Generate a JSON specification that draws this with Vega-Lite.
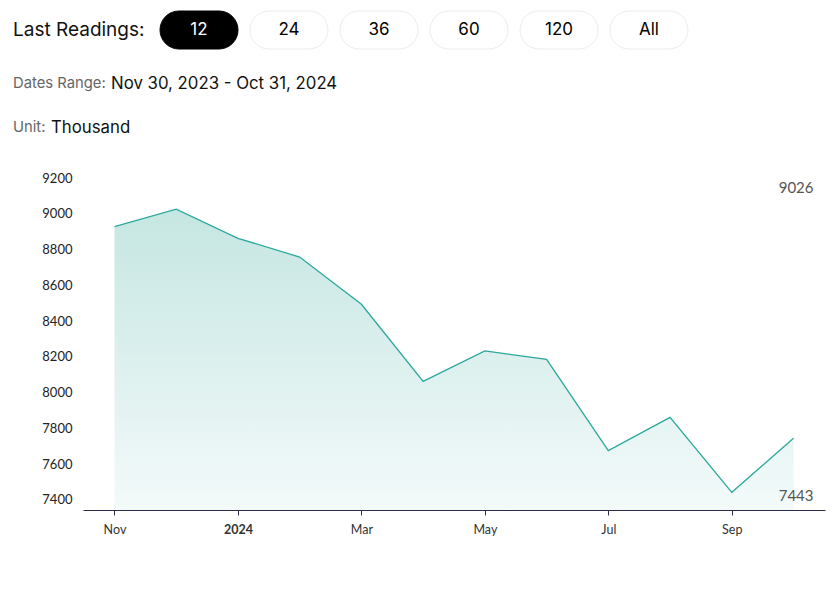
{
  "$schema": "https://vega.github.io/schema/vega-lite/v6.json",
  "width": 742,
  "height": 332,
  "autosize": "none",
  "padding": {"left": 83, "top": 178, "right": 13, "bottom": 81},
  "background": "white",
  "config": {"view": {"stroke": null}},
  "datasets": {
    "series": [
      {"month": "2023-11", "value": 8928},
      {"month": "2023-12", "value": 9026},
      {"month": "2024-01", "value": 8863},
      {"month": "2024-02", "value": 8758},
      {"month": "2024-03", "value": 8494},
      {"month": "2024-04", "value": 8063},
      {"month": "2024-05", "value": 8233},
      {"month": "2024-06", "value": 8186},
      {"month": "2024-07", "value": 7676},
      {"month": "2024-08", "value": 7862},
      {"month": "2024-09", "value": 7443},
      {"month": "2024-10", "value": 7745}
    ],
    "buttons": [
      {"label": "12", "selected": true},
      {"label": "24", "selected": false},
      {"label": "36", "selected": false},
      {"label": "60", "selected": false},
      {"label": "120", "selected": false},
      {"label": "All", "selected": false}
    ]
  },
  "resolve": {"scale": {"x": "independent", "y": "independent"}, "axis": {"x": "independent", "y": "independent"}},
  "layer": [
    {
      "data": {"name": "buttons"},
      "encoding": {
        "x": {
          "field": "label",
          "type": "nominal",
          "sort": null,
          "axis": null,
          "scale": {"type": "band", "domain": ["12", "24", "36", "60", "120", "All"], "range": [71, 611], "paddingInner": 0.1333, "paddingOuter": 0.0667}
        }
      },
      "layer": [
        {
          "mark": {"type": "rect", "cornerRadius": 19, "strokeWidth": 1},
          "encoding": {
            "y": {"value": -167},
            "y2": {"value": -129},
            "fill": {"condition": {"test": "datum.selected", "value": "#000000"}, "value": "#ffffff"},
            "stroke": {"condition": {"test": "datum.selected", "value": "#000000"}, "value": "#ececec"}
          }
        },
        {
          "mark": {"type": "text", "font": "Inter", "fontSize": 17, "baseline": "middle", "align": "center"},
          "encoding": {
            "text": {"field": "label"},
            "y": {"value": -148},
            "color": {"condition": {"test": "datum.selected", "value": "#ffffff"}, "value": "#000000"}
          }
        }
      ]
    },
    {
      "data": {"values": [{"t": "Last Readings:"}]},
      "mark": {"type": "text", "font": "Inter", "fontSize": 19, "align": "left", "baseline": "middle", "color": "#111111"},
      "encoding": {"text": {"field": "t"}, "x": {"value": -70}, "y": {"value": -148}}
    },
    {
      "data": {"values": [{"t": "Dates Range:", "line": "a"}, {"t": "Unit:", "line": "b"}]},
      "mark": {"type": "text", "font": "Inter", "fontSize": 14.8, "align": "left", "baseline": "middle", "color": "#666666"},
      "encoding": {
        "text": {"field": "t"},
        "x": {"value": -70},
        "y": {"field": "line", "type": "nominal", "axis": null, "scale": {"type": "point", "domain": ["a", "b"], "range": [-94, -50], "padding": 0}}
      }
    },
    {
      "data": {"values": [{"t": "Nov 30, 2023 - Oct 31, 2024", "line": "a", "start": "a"}, {"t": "Thousand", "line": "b", "start": "b"}]},
      "mark": {"type": "text", "font": "Inter", "fontSize": 16.8, "align": "left", "baseline": "middle", "color": "#111111"},
      "encoding": {
        "text": {"field": "t"},
        "x": {"field": "start", "type": "nominal", "axis": null, "scale": {"type": "point", "domain": ["b", "a"], "range": [-32, 28], "padding": 0}},
        "y": {"field": "line", "type": "nominal", "axis": null, "scale": {"type": "point", "domain": ["a", "b"], "range": [-94, -50], "padding": 0}}
      }
    },
    {
      "data": {"name": "series"},
      "encoding": {
        "x": {
          "field": "month",
          "type": "ordinal",
          "sort": null,
          "scale": {"type": "point", "padding": 0.51},
          "axis": {
            "title": null,
            "values": ["2023-11", "2024-01", "2024-03", "2024-05", "2024-07", "2024-09"],
            "labelExpr": "datum.value == '2023-11' ? 'Nov' : datum.value == '2024-01' ? '2024' : datum.value == '2024-03' ? 'Mar' : datum.value == '2024-05' ? 'May' : datum.value == '2024-07' ? 'Jul' : 'Sep'",
            "labelFontWeight": {"condition": {"test": "datum.value == '2024-01'", "value": "bold"}, "value": "normal"},
            "labelAngle": 0,
            "labelFont": "Lato",
            "labelFontSize": 12.5,
            "labelColor": "#333333",
            "labelPadding": 8,
            "domainColor": "#2b2c4e",
            "domainWidth": 1.2,
            "tickColor": "#2b2c4e",
            "tickSize": 5,
            "grid": false
          }
        },
        "y": {
          "field": "value",
          "type": "quantitative",
          "scale": {"domain": [7344, 9200], "nice": false, "zero": false},
          "axis": {
            "title": null,
            "values": [7400, 7600, 7800, 8000, 8200, 8400, 8600, 8800, 9000, 9200],
            "format": "d",
            "domain": false,
            "ticks": false,
            "grid": false,
            "labelFont": "Lato",
            "labelFontSize": 13,
            "labelColor": "#222222",
            "labelPadding": 11
          }
        }
      },
      "layer": [
        {
          "mark": {
            "type": "area",
            "fill": {"gradient": "linear", "x1": 0, "y1": 0, "x2": 0, "y2": 1, "stops": [{"offset": 0, "color": "#c5e6e2"}, {"offset": 1, "color": "#f3fafa"}]}
          },
          "encoding": {"y2": {"datum": 7344}}
        },
        {
          "mark": {"type": "line", "color": "#2aa89a", "strokeWidth": 1.3}
        },
        {
          "transform": [
            {"joinaggregate": [{"op": "max", "field": "value", "as": "vmax"}]},
            {"filter": "datum.value == datum.vmax"}
          ],
          "mark": {"type": "text", "font": "Lato", "fontSize": 15, "color": "#555555", "align": "right", "baseline": "middle", "dx": 20, "dy": -21},
          "encoding": {"x": {"datum": "2024-10"}, "text": {"field": "value", "type": "quantitative", "format": "d"}}
        },
        {
          "transform": [
            {"joinaggregate": [{"op": "min", "field": "value", "as": "vmin"}]},
            {"filter": "datum.value == datum.vmin"}
          ],
          "mark": {"type": "text", "font": "Lato", "fontSize": 15, "color": "#555555", "align": "right", "baseline": "middle", "dx": 20, "dy": 4},
          "encoding": {"x": {"datum": "2024-10"}, "text": {"field": "value", "type": "quantitative", "format": "d"}}
        }
      ]
    }
  ]
}
